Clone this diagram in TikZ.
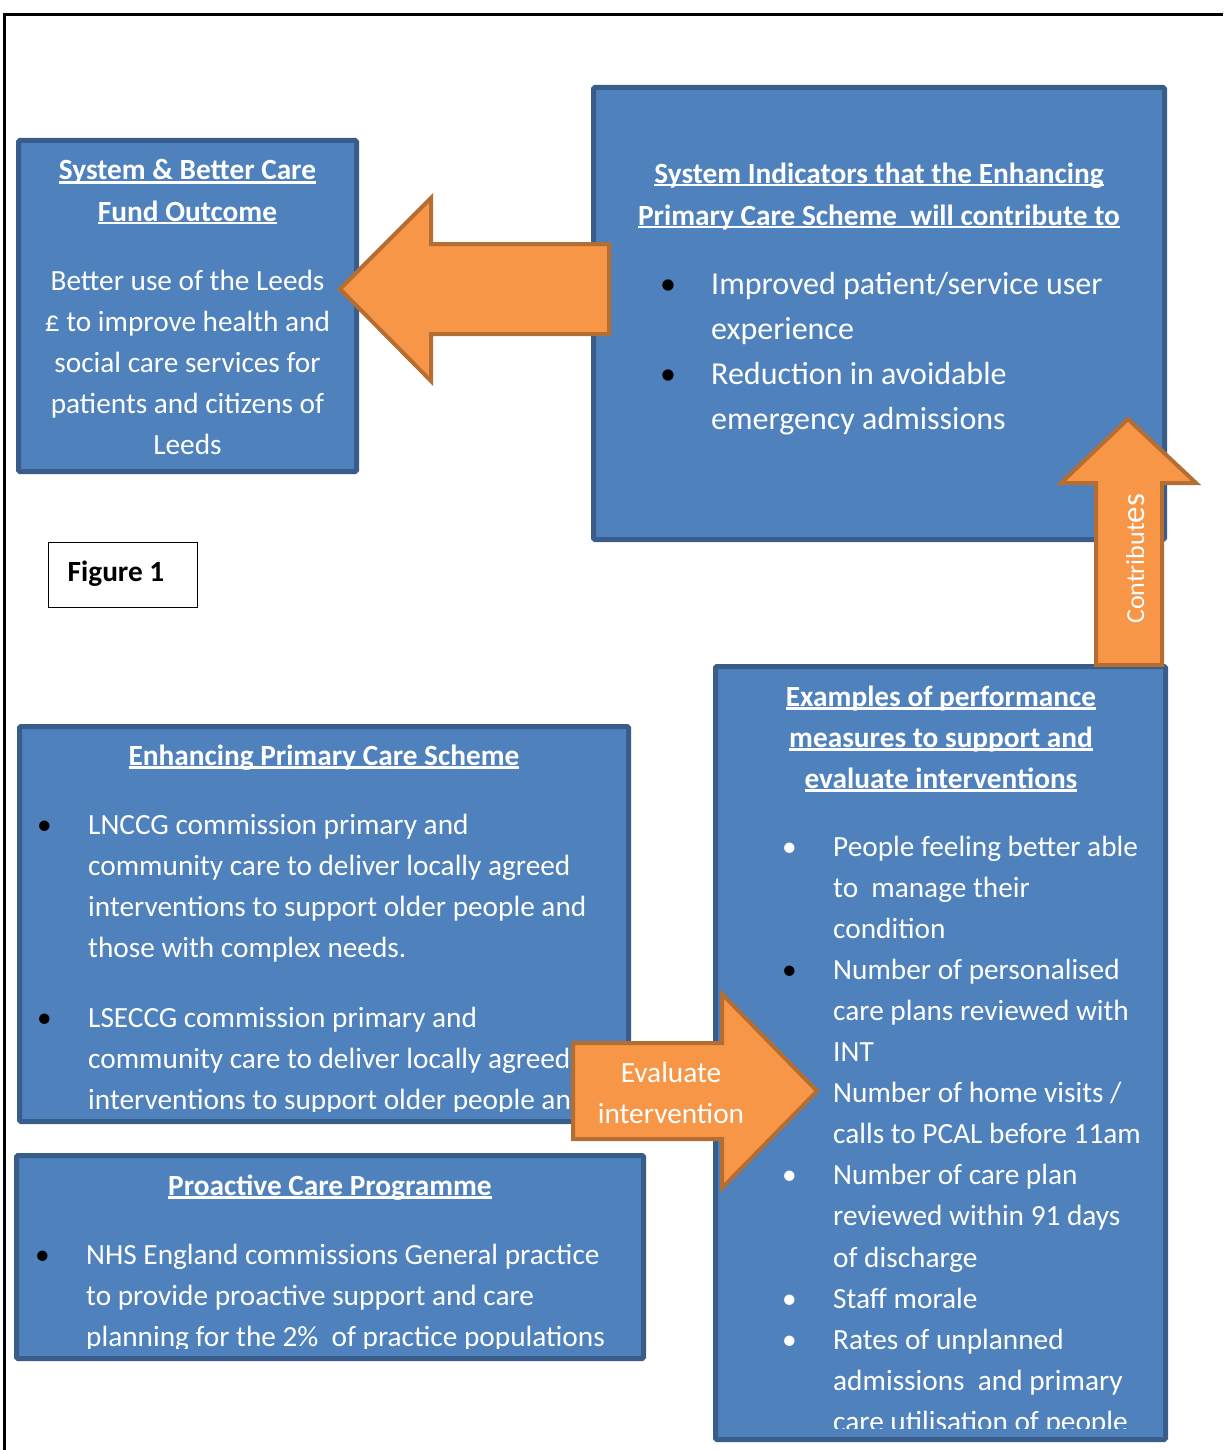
\documentclass[tikz,border=0pt]{standalone}
\usepackage{fontspec}
\setmainfont{Carlito}
\definecolor{boxfill}{HTML}{4F81BD}
\definecolor{boxline}{HTML}{385D8A}
\definecolor{arrfill}{HTML}{F79646}
\definecolor{arrline}{HTML}{B66D31}
\newcommand\hul[1]{\setbox0=\hbox{#1}\rlap{\rule[-3.5pt]{\wd0}{2.4pt}}\box0}
\newcommand\bk{\llap{\makebox[51pt][l]{\color{black}•}}}
\newcommand\wt{\llap{\makebox[51pt][l]{\color{white}•}}}
\begin{document}
\begin{tikzpicture}[x=1pt,y=-1pt,
  bx/.style={draw=boxline, fill=boxfill, line width=5pt, rounded corners=1.5pt, inner sep=0pt, outer sep=0pt, anchor=north west},
  arr/.style={draw=arrline, fill=arrfill, line width=4pt, line join=miter},
  txt/.style={text=white, inner sep=0pt, font=\fontsize{29.3}{41}\selectfont},
  hd/.style={text=white, inner sep=0pt, align=center, anchor=base, font=\bfseries\fontsize{29.3}{41}\selectfont}]
\useasboundingbox (0,0) rectangle (1223,1450);
\fill[white] (0,0) rectangle (1223,1450);
% page frame
\draw[line width=3pt] (4,1450) -- (4,14.5) -- (1223,14.5);

% boxes
\node[bx, minimum width=338, minimum height=331] (boxA) at (18.5,140.5) {};
\node[bx, minimum width=571, minimum height=452] (boxB) at (593.5,87.5) {};
\node[bx, minimum width=450, minimum height=773] (boxC) at (715.5,666.5) {};
\node[bx, minimum width=609, minimum height=395] (boxD) at (19.5,726.5) {};
\node[bx, minimum width=627, minimum height=203] (boxE) at (16.5,1155.5) {};

% (anchor=base of a multi-line node = baseline of its last line)
% box A text
\node[hd] (aHead) at (187.5,221) {\hul{System \& Better Care}\\\hul{Fund Outcome}};
\node[txt, align=center, anchor=base] (aBody) at (187.5,454) {Better use of the Leeds\\£ to improve health and\\social care services for\\patients and citizens of\\Leeds};

% box B text
\node[hd, font=\bfseries\fontsize{29.3}{42}\selectfont] (bHead) at (879,225) {\hul{System Indicators that the Enhancing}\\\hul{Primary Care Scheme\ \ will contribute to}};
\node[txt, align=left, anchor=base west, font=\fontsize{32}{45}\selectfont] (bBody) at (711,429) {\bk Improved patient/service user\\experience\\\bk Reduction in avoidable\\emergency admissions};

% box C text
\node[hd] (cHead) at (941,788) {\hul{Examples of performance}\\\hul{measures to support and}\\\hul{evaluate interventions}};
\begin{scope}
\clip (718,670) rectangle (1163,1428);
\node[txt, align=left, anchor=base west, font=\fontsize{29.3}{41.1}\selectfont] (cBody) at (833,1431.4) {\wt People feeling better able\\to\ \ manage their\\condition\\\bk Number of personalised\\care plans reviewed with\\INT\\Number of home visits /\\calls to PCAL before 11am\\\wt Number of care plan\\reviewed within 91 days\\of discharge\\\wt Staff morale\\\wt Rates of unplanned\\admissions\ \ and primary\\care utilisation of people};
\end{scope}

% box D text
\node[hd] (dHead) at (324,765) {\hul{Enhancing Primary Care Scheme}};
\begin{scope}
\clip (22,730) rectangle (626,1111);
\node[txt, align=left, anchor=base west] (dBody) at (88,1109) {\bk LNCCG commission primary and\\community care to deliver locally agreed\\interventions to support older people and\\those with complex needs.\\[29pt]\bk LSECCG commission primary and\\community care to deliver locally agreed\\interventions to support older people and};
\end{scope}

% box E text
\node[hd] (eHead) at (330,1195) {\hul{Proactive Care Programme}};
\begin{scope}
\clip (19,1159) rectangle (641,1348);
\node[txt, align=left, anchor=base west] (eBody) at (86,1346) {\bk NHS England commissions General practice\\to provide proactive support and care\\planning for the 2\%\ \ of practice populations};
\end{scope}

% figure label
\node[draw=black, line width=1.3pt, minimum width=148.7, minimum height=64.7, inner sep=0pt, outer sep=0pt, anchor=north west] (figBox) at (48.65,542.65) {};
\node[inner sep=0pt, anchor=base, font=\bfseries\fontsize{29.3}{35}\selectfont] (figTxt) at (116,581) {Figure 1};

% left arrow (indicators -> outcome)
\draw[arr] (340,289) -- (431,198) -- (431,244) -- (609,244) -- (609,334) -- (431,334) -- (431,381) -- cycle;

% up arrow (contributes)
\draw[arr] (1128,419) -- (1196,483) -- (1162,483) -- (1162,665) -- (1096,665) -- (1096,483) -- (1061,483) -- cycle;
\node[txt, rotate=90, anchor=base west] (contrib) at (1144,624) {{\fontsize{26}{26}\selectfont Contribut}{\fontsize{33}{33}\selectfont es}};

% right arrow (evaluate)
\draw[arr] (817,1091) -- (722,1188) -- (722,1139) -- (573,1139) -- (573,1043) -- (722,1043) -- (722,994) -- cycle;
\node[txt, align=center, anchor=base] (evalTxt) at (671,1123) {Evaluate\\intervention};
\end{tikzpicture}
\end{document}
